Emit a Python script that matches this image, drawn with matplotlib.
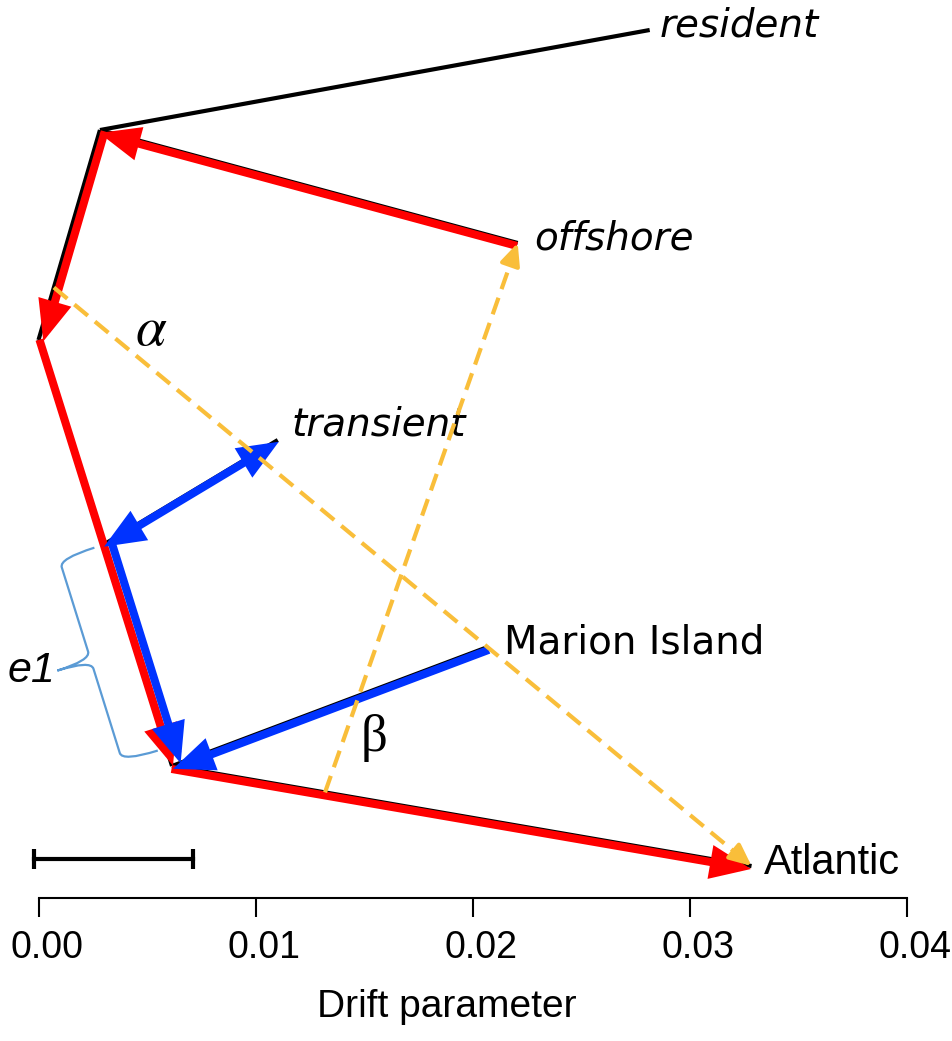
import numpy as np
import matplotlib.pyplot as plt
from matplotlib.patches import FancyArrowPatch, PathPatch
from matplotlib.path import Path
from matplotlib.transforms import ScaledTranslation

# ---- tree nodes (x = drift parameter, y = layout position 0-1) ----
node_names = ['resident', 'offshore', 'transient', 'Marion Island', 'Atlantic',
              'n_res_off', 'root', 'n_trans', 'n_mar_atl']
node_x = [0.02815, 0.02207, 0.01102, 0.02069, 0.03284, 0.00283, 0.0, 0.00297, 0.00615]
node_y = [0.9666, 0.7294, 0.5100, 0.2795, 0.0356, 0.8552, 0.6214, 0.3931, 0.1470]

tree_edges = [('root', 'n_res_off'), ('n_res_off', 'resident'), ('n_res_off', 'offshore'),
              ('root', 'n_trans'), ('n_trans', 'transient'), ('n_trans', 'n_mar_atl'),
              ('n_mar_atl', 'Marion Island'), ('n_mar_atl', 'Atlantic')]

# red path (offset in pixels from the black edge)
red_path = [('offshore', 'n_res_off', 3), ('n_res_off', 'root', 5),
            ('root', 'n_mar_atl', 1), ('n_mar_atl', 'Atlantic', -3)]
# blue arrows (from, to, offset, both heads)
blue_arrows = [('n_trans', 'transient', -2, True), ('n_trans', 'n_mar_atl', 9, False),
               ('Marion Island', 'n_mar_atl', 3, False)]

# migration edges: start on edge (parent, child, fraction), end at tip
mig_edges = [(('root', 'n_res_off', 0.25), 'Atlantic', r'$\alpha$'),
             (('n_mar_atl', 'Atlantic', 0.264), 'offshore', 'β')]
greek_x = [0.00518, 0.01544]
greek_y = [0.632, 0.178]

tip_labels = ['resident', 'offshore', 'transient', 'Marion Island', 'Atlantic']
tip_italic = [True, True, True, False, False]
# label offset from tip (points)
tip_dx = [7, 12, 10, 12, 9]
tip_dy = [-5, -5, 3, -4.5, -6]

scale_x0 = -0.0002
scale_len = 0.0073
scale_y = 0.0434

xticks = [0.00, 0.01, 0.02, 0.03, 0.04]

pos = dict(zip(node_names, zip(node_x, node_y)))

RED = '#FF0000'
BLUE = '#0033FF'
YEL = '#F9BE3A'
BRACE = '#5B9BD5'

fig = plt.figure(figsize=(9.53, 10.41), dpi=100)
ax = fig.add_axes([38.5 / 953, 143 / 1041, 868.5 / 953, 898 / 1041])
ax.set_xlim(0, 0.04)
ax.set_ylim(0, 1)
for s in ['left', 'top', 'right']:
    ax.spines[s].set_visible(False)
ax.spines['bottom'].set_linewidth(1.5)
ax.set_yticks([])
ax.set_xticks(xticks)
ax.set_xticklabels(['%.2f' % t for t in xticks], family='Liberation Sans', fontsize=27)
ax.tick_params(axis='x', length=14, width=1.5, pad=9)
for lbl in ax.get_xticklabels():
    lbl.set_transform(lbl.get_transform() + ScaledTranslation(0.08, 0, fig.dpi_scale_trans))
ax.set_xlabel('Drift parameter', family='Liberation Sans', fontsize=28)
ax.xaxis.set_label_coords(0.47, -0.101)

inv = ax.transData.inverted()


def shifted(p0, p1, off):
    a = ax.transData.transform(p0)
    b = ax.transData.transform(p1)
    d = (b - a) / np.hypot(*(b - a))
    n = np.array([-d[1], d[0]])
    return inv.transform(a + n * off), inv.transform(b + n * off)


# black tree
for a, b in tree_edges:
    ax.plot([pos[a][0], pos[b][0]], [pos[a][1], pos[b][1]], color='black', lw=3,
            solid_capstyle='butt', clip_on=False, zorder=2)

# red arrows
for a, b, off in red_path:
    p0, p1 = shifted(pos[a], pos[b], off)
    ar = FancyArrowPatch(p0, p1, arrowstyle='-|>,head_length=1.2,head_width=0.5',
                         mutation_scale=16, lw=5.8, color=RED, shrinkA=0, shrinkB=0,
                         joinstyle='miter', capstyle='butt', clip_on=False, zorder=3)
    ax.add_patch(ar)

# blue arrows
for a, b, off, both in blue_arrows:
    p0, p1 = shifted(pos[a], pos[b], off)
    style = '<|-|>' if both else '-|>'
    ar = FancyArrowPatch(p0, p1, arrowstyle=style + ',head_length=1.2,head_width=0.5',
                         mutation_scale=16, lw=5.8, color=BLUE, shrinkA=0, shrinkB=0,
                         joinstyle='miter', capstyle='butt', clip_on=False, zorder=4)
    ax.add_patch(ar)

# migration (dashed yellow)
for (pa, pb, f), tip, lab in mig_edges:
    s = np.array(pos[pa]) + f * (np.array(pos[pb]) - np.array(pos[pa]))
    e = np.array(pos[tip])
    sp = ax.transData.transform(s)
    ep = ax.transData.transform(e)
    d = (ep - sp) / np.hypot(*(ep - sp))
    mid = inv.transform(ep - d * 14)
    ax.plot([s[0], mid[0]], [s[1], mid[1]], color=YEL, lw=3, ls=(0, (4.2, 2.2)),
            clip_on=False, zorder=5)
    ax.add_patch(FancyArrowPatch(inv.transform(ep - d * 16), e,
                                 arrowstyle='-|>,head_length=1.1,head_width=0.5',
                                 mutation_scale=12, lw=3, color=YEL, shrinkA=0, shrinkB=0,
                                 clip_on=False, zorder=5))

ax.text(greek_x[0], greek_y[0], mig_edges[0][2], fontsize=40, math_fontfamily='stix',
        ha='center', va='center')
ax.text(greek_x[1], greek_y[1], mig_edges[1][2], fontsize=38, family='Liberation Serif',
        ha='center', va='center')

# tip labels
for name, it, dx, dy in zip(tip_labels, tip_italic, tip_dx, tip_dy):
    fam = 'Liberation Sans' if name == 'Atlantic' else 'DejaVu Sans'
    fs = 30 if name == 'Atlantic' else 28
    ax.annotate(name, xy=pos[name], xytext=(dx, dy), textcoords='offset points',
                ha='left', va='baseline', fontsize=fs, family=fam,
                style='italic' if it else 'normal', annotation_clip=False)

# brace along the transient -> node edge
a = ax.transData.transform(pos['n_trans'])
b = ax.transData.transform(pos['n_mar_atl'])
L = np.hypot(*(b - a)) - 19
u = (b - a) / np.hypot(*(b - a))
n = np.array([u[1], -u[0]])
m = L / 2
loc = [(0, 9), (0, 46), (9, 46), (m - 9, 46), (m, 46), (m, 81), (m, 46), (m + 9, 46),
       (L - 9, 46), (L, 46), (L, 9)]
codes = [Path.MOVETO, Path.CURVE3, Path.CURVE3, Path.LINETO, Path.CURVE3, Path.CURVE3,
         Path.CURVE3, Path.CURVE3, Path.LINETO, Path.CURVE3, Path.CURVE3]
pts = np.array([a + s_ * u + h * n for s_, h in loc])
ax.add_patch(PathPatch(Path(inv.transform(pts), codes), fill=False, ec=BRACE, lw=1.6,
                       clip_on=False, zorder=2))
cusp = a + m * u + 83 * n
tp = inv.transform(cusp)
ax.text(tp[0], tp[1], 'e1', fontsize=31, family='Liberation Sans', style='italic',
        ha='right', va='center')

# scale bar
ax.plot([scale_x0, scale_x0 + scale_len], [scale_y, scale_y], color='black', lw=3,
        marker='|', markersize=14, mew=3, clip_on=False)

fig.savefig('out.png', dpi=100)
